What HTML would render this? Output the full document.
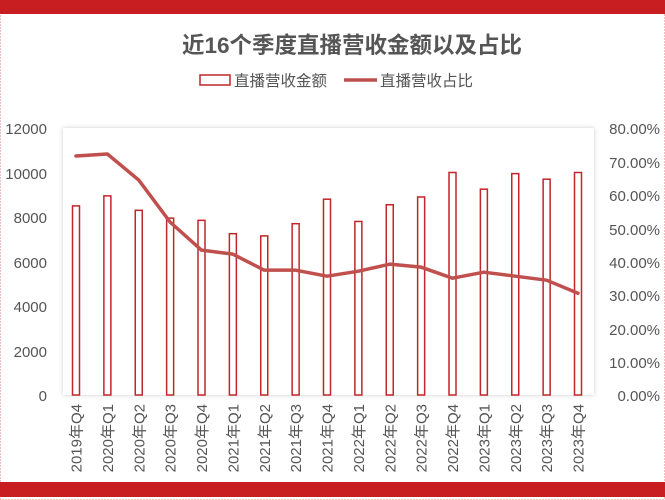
<!DOCTYPE html>
<html><head><meta charset="utf-8"><style>
body{margin:0;background:#fff}
svg{display:block;font-family:"Liberation Sans","Noto Sans CJK SC",sans-serif}
</style></head><body>
<svg width="665" height="500" viewBox="0 0 665 500" xmlns="http://www.w3.org/2000/svg">
<rect x="0.5" y="0.5" width="664" height="499" fill="#fff" stroke="#e08080" stroke-dasharray="1,2"/>
<rect x="0" y="0" width="665" height="14" fill="#c81e22"/>
<rect x="0" y="482" width="665" height="15" fill="#c81e22"/>
<text x="352" y="53" text-anchor="middle" font-size="22.5" font-weight="bold" fill="#555">近16个季度直播营收金额以及占比</text>
<rect x="200" y="75" width="30" height="10" fill="#fff" stroke="#c0262b" stroke-width="1.5"/>
<text x="234" y="86" font-size="15.5" fill="#555">直播营收金额</text>
<line x1="344" y1="80" x2="377" y2="80" stroke="#c0504d" stroke-width="3.5"/>
<text x="380" y="86" font-size="15.5" fill="#555">直播营收占比</text>
<defs><filter id="sh" x="-5%" y="-5%" width="110%" height="110%"><feDropShadow dx="0" dy="0" stdDeviation="2" flood-color="#999" flood-opacity="0.5"/></filter></defs>
<rect x="63" y="128" width="531" height="267" fill="#fff" filter="url(#sh)"/>
<g font-size="15" fill="#555" text-anchor="end">
<text x="47" y="134">12000</text><text x="47" y="179">10000</text><text x="47" y="223">8000</text><text x="47" y="268">6000</text><text x="47" y="312">4000</text><text x="47" y="357">2000</text><text x="47" y="401">0</text>
</g>
<g font-size="15" fill="#555" text-anchor="end">
<text x="660" y="134">80.00%</text><text x="660" y="168">70.00%</text><text x="660" y="201">60.00%</text><text x="660" y="235">50.00%</text><text x="660" y="268">40.00%</text><text x="660" y="301">30.00%</text><text x="660" y="335">20.00%</text><text x="660" y="368">10.00%</text><text x="660" y="401">0.00%</text>
</g>
<g id="bars" fill="#fff" stroke="#c0262b" stroke-width="1.5"></g>
<polyline id="ln" fill="none" stroke="#c0504d" stroke-width="3.5" stroke-linejoin="round" stroke-linecap="round"/>
<g id="lbl" font-size="15" fill="#555"></g>
</svg>
<script>
var v=[8500,8950,8300,7950,7850,7250,7150,7700,8800,7800,8550,8900,10000,9250,9950,9700,10000];
var p=[71.6,72.2,64.4,51.8,43.4,42.2,37.4,37.4,35.6,37.1,39.2,38.3,35,36.8,35.6,34.4,30.5];
var L=["2019年Q4","2020年Q1","2020年Q2","2020年Q3","2020年Q4","2021年Q1","2021年Q2","2021年Q3","2021年Q4","2022年Q1","2022年Q2","2022年Q3","2022年Q4","2023年Q1","2023年Q2","2023年Q3","2023年Q4"];
var ns="http://www.w3.org/2000/svg",b=document.getElementById("bars"),g=document.getElementById("lbl"),pts=[];
for(var i=0;i<17;i++){var x=76+i*31.375,h=v[i]*267/12000;
var r=document.createElementNS(ns,"rect");r.setAttribute("x",x-3.5);r.setAttribute("y",395-h);r.setAttribute("width",7);r.setAttribute("height",h);b.appendChild(r);
pts.push(x+","+(395-p[i]*267/80));
var t=document.createElementNS(ns,"text");t.setAttribute("transform","translate("+(x+5.5)+",404) rotate(-90)");t.setAttribute("text-anchor","end");t.textContent=L[i];g.appendChild(t);}
document.getElementById("ln").setAttribute("points",pts.join(" "));
</script>
</body></html>
